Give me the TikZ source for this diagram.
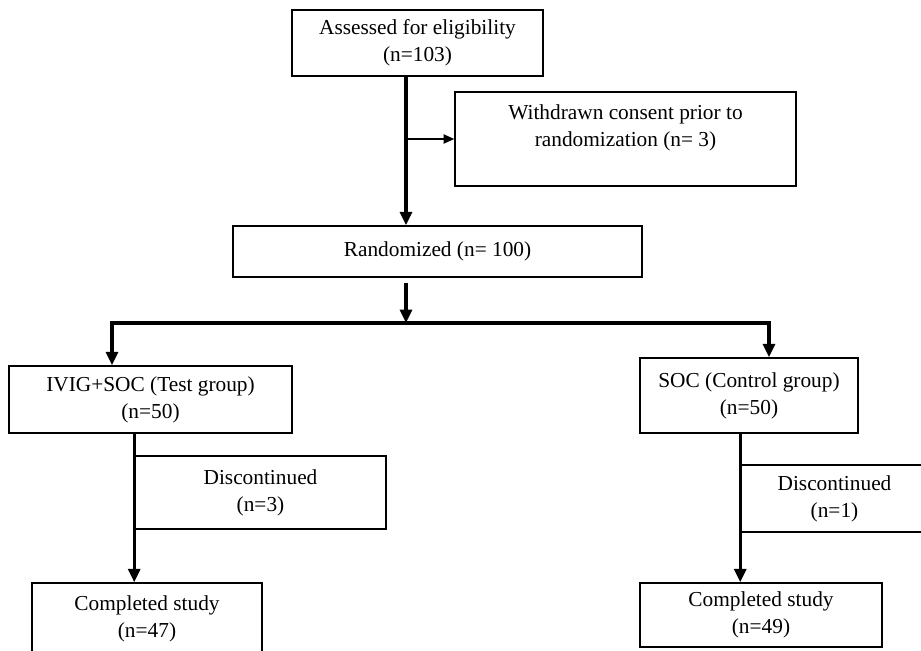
\documentclass[tikz,border=0pt]{standalone}
\usepackage{fontspec}
\setmainfont{Liberation Serif}
\usetikzlibrary{arrows.meta}

\tikzset{
    box/.style={draw,line width=1.2pt,rectangle,inner sep=0pt,align=center,
        font=\fontsize{16}{20.25}\selectfont},
    dims/.style 2 args={minimum width=#1*0.75pt,minimum height=#2*0.75pt},
    flow/.style={line width=2.3pt,-{Triangle[length=10pt,width=9pt]}},
    side/.style={line width=1pt,-{Triangle[length=8pt,width=7pt]}}
}

\begin{document}
\begin{tikzpicture}[x=0.75pt,y=-0.75pt]
    \useasboundingbox (0,0) rectangle (921,650);

    \node[box,dims={251}{66}] (assess) at (417.5,43) {Assessed for eligibility\\(n=103)};
    \node[box,dims={341}{94}] (withdrawn) at (625.5,139) {Withdrawn consent prior to\\randomization (n= 3)\\\mbox{}};
    \node[box,dims={409}{51}] (rand) at (437.5,251.5) {Randomized (n= 100)};
    \node[box,dims={283}{67}] (ivig) at (150.5,399.5) {IVIG+SOC (Test group)\\(n=50)};
    \node[box,dims={218}{75}] (soc) at (749,395.5) {SOC (Control group)\\(n=50)};
    \node[box,dims={251}{73}] (discL) at (260.5,492.5) {Discontinued\\(n=3)};
    \node[box,dims={187}{67}] (discR) at (834.5,498.5) {Discontinued\\(n=1)};
    \node[box,dims={230}{72}] (compL) at (147,619) {Completed study\\(n=47)};
    \node[box,dims={242}{64}] (compR) at (761,615) {Completed study\\(n=49)};

    \coordinate (trunk) at (406,323);
    \coordinate (brL) at (112,323);
    \coordinate (brR) at (769,323);

    \draw[flow] (assess.south -| trunk) -- (rand.north -| trunk);
    \draw[side] (withdrawn.west -| trunk) -- (withdrawn.west);
    \draw[flow,shorten <=3.75pt] (rand.south -| trunk) -- (trunk);
    \draw[flow] (trunk) -- (brL) -- (ivig.north -| brL);
    \draw[flow] (trunk) -- (brR) -- (soc.north -| brR);
    \draw[flow] (ivig.south -| discL.west) -- (compL.north -| discL.west);
    \draw[flow] (soc.south -| discR.west) -- (compR.north -| discR.west);
\end{tikzpicture}
\end{document}
